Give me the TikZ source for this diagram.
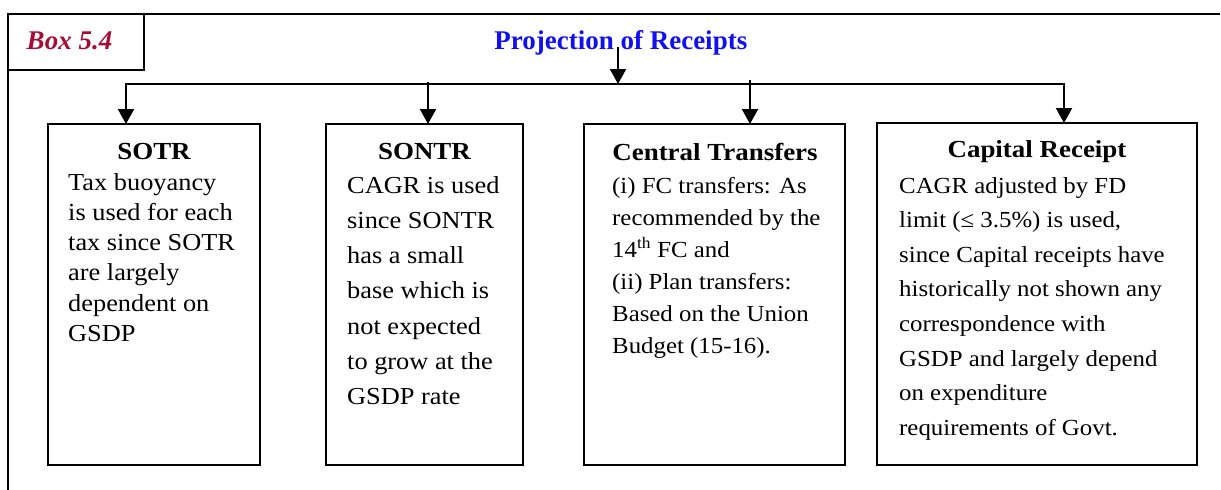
\documentclass[tikz,border=0pt]{standalone}
\usepackage{fontspec}
\setmainfont{Liberation Serif}
\newfontfamily\boxfont[FakeStretch=1.08]{Liberation Serif}
\newfontfamily\headfont[FakeStretch=1.1]{Liberation Serif}
\usetikzlibrary{arrows.meta}
\definecolor{boxred}{HTML}{A50D35}
\definecolor{titleblue}{HTML}{1010F0}

\begin{document}
\begin{tikzpicture}[x=1pt,y=-1pt,
  frame/.style={line width=2pt},
  panel/.style={draw, line width=1.6pt, anchor=north west, inner sep=0pt, outer sep=0pt},
  head/.style={anchor=base, inner sep=0pt, font=\headfont\bfseries\fontsize{24.5}{28}\selectfont},
  % multi-line nodes: the base anchor sits on the last line
  body/.style={anchor=base west, inner sep=0pt, align=left},
  link/.style={line width=2pt, -{Triangle[width=16pt,length=15pt]}},
  bus/.style={line width=2pt, {Triangle[width=16pt,length=15pt]}-{Triangle[width=16pt,length=15pt]}},
]
\useasboundingbox (0,0) rectangle (1221,490);

% outer frame with the label cell in its corner
\draw[frame] (1220,14) -- (8,14) -- (8,490);
\node[draw, line width=2pt, anchor=north west, inner sep=0pt, outer sep=0pt,
      minimum width=136pt, minimum height=56pt] (lab) at (8,14) {};
\node[anchor=base, inner sep=0pt, text=boxred,
      font=\bfseries\itshape\fontsize{27}{30}\selectfont] (labtext) at (69.5,49.3) {Box 5.4};

% title
\node[anchor=base, inner sep=0pt, text=titleblue,
      font=\bfseries\fontsize{27}{30}\selectfont] (title) at (620.8,49.3) {Projection of Receipts};

% the four panels
\node[panel, minimum width=212pt, minimum height=341pt] (b1) at (48,124) {};
\node[panel, minimum width=197pt, minimum height=341pt] (b2) at (326,124) {};
\node[panel, minimum width=261pt, minimum height=341pt] (b3) at (584,124) {};
\node[panel, minimum width=320pt, minimum height=342pt] (b4) at (877,123) {};

% headings
\node[head] (h1) at (154,159) {SOTR};
\node[head] (h2) at (424.5,159) {SONTR};
\node[head] (h3) at (715,160.5) {Central Transfers};
\node[head] (h4) at (1037,157) {Capital Receipt};

% panel texts (positioned by the baseline of their last line)
\node[body, font=\boxfont\fontsize{24.4}{30.3}\selectfont] (t1) at (68,341.5)
  {Tax buoyancy\\is used for each\\tax since SOTR\\are largely\\dependent on\\GSDP};
\node[body, font=\boxfont\fontsize{24.4}{35.3}\selectfont] (t2) at (347,404.8)
  {CAGR is used\\since SONTR\\has a small\\base which is\\not expected\\to grow at the\\GSDP rate};
\node[body, font=\boxfont\fontsize{23}{32.1}\selectfont] (t3) at (612,353.5)
  {(i) FC transfers: As\\recommended by the\\14\textsuperscript{th} FC and\\(ii) Plan transfers:\\Based on the Union\\Budget (15-16).};
\node[body, font=\boxfont\fontsize{23}{34.6}\selectfont] (t4) at (899,435.2)
  {CAGR adjusted by FD\\limit (≤ 3.5\%) is used,\\since Capital receipts have\\historically not shown any\\correspondence with\\GSDP and largely depend\\on expenditure\\requirements of Govt.};

% connectors
\coordinate (src) at (618,47);
\coordinate (bus1) at (126,84);
\coordinate (bus4) at (1064,84);
\coordinate (bus2) at (428,82);
\coordinate (bus3) at (750,80);
\draw[link] (src) -- (src |- bus1);
\draw[bus] (bus1 |- b1.north) -- (bus1) -- (bus4) -- (bus4 |- b4.north);
\draw[link] (bus2) -- (bus2 |- b2.north);
\draw[link] (bus3) -- (bus3 |- b3.north);
\end{tikzpicture}
\end{document}
